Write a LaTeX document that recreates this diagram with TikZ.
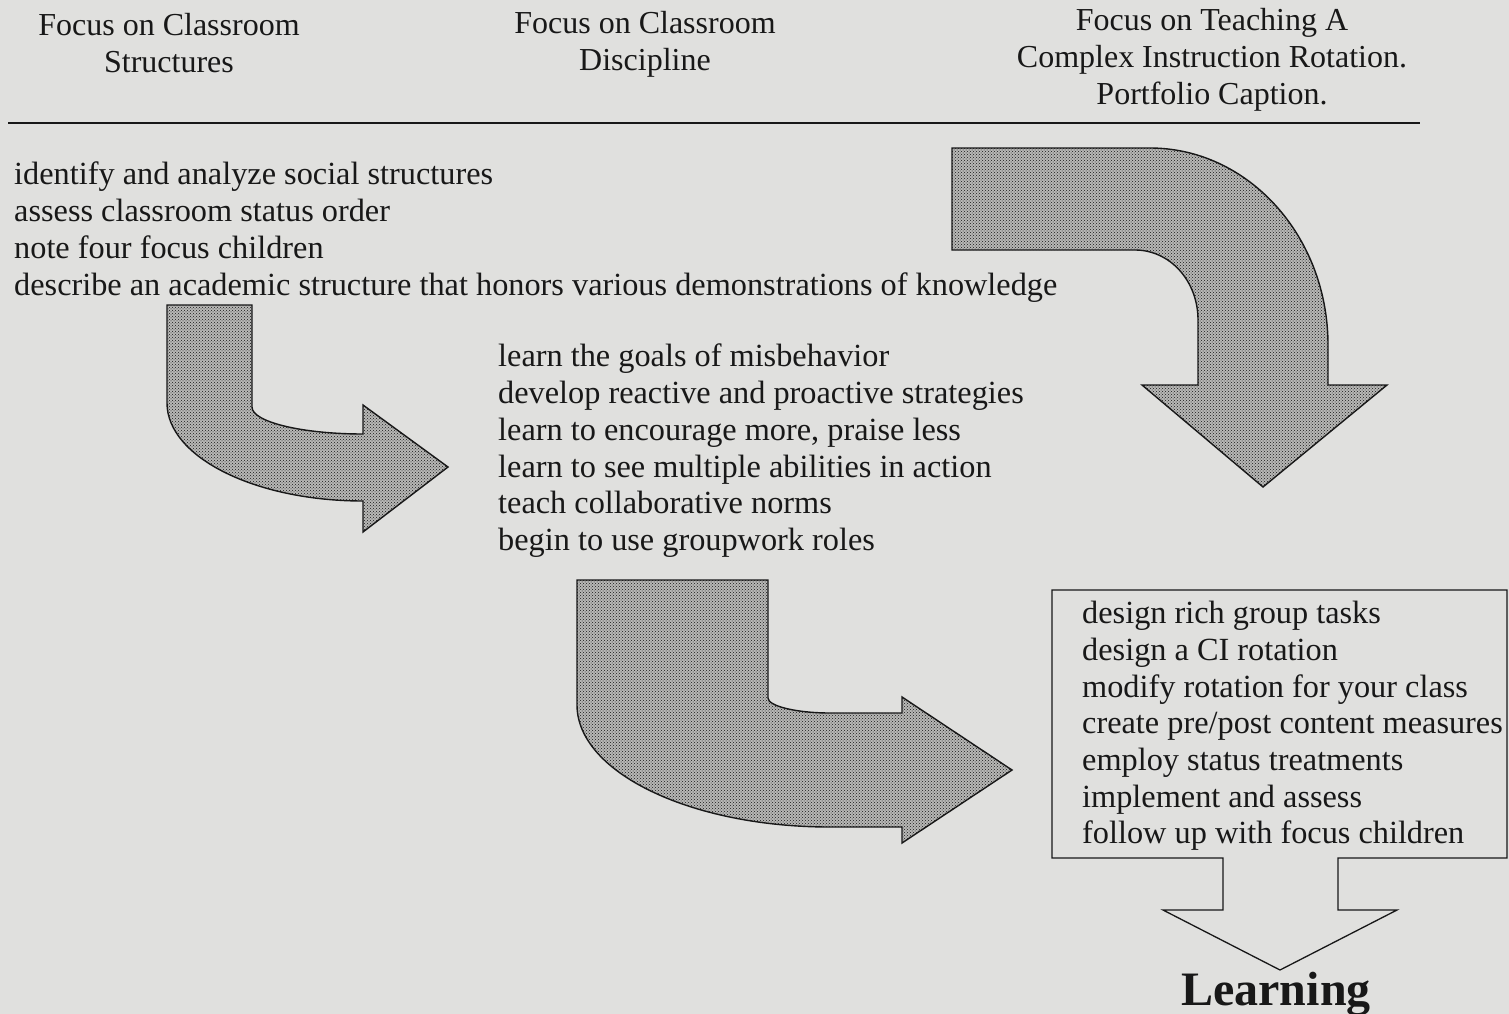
\documentclass[tikz,border=0pt]{standalone}
\usepackage{fontspec}
\setmainfont{Liberation Serif}
\usepackage{tikz}
\usetikzlibrary{patterns}
\definecolor{paper}{RGB}{224,224,222}
\definecolor{ink}{RGB}{24,24,24}

\begin{document}
\begin{tikzpicture}[x=1pt,y=-1pt,
        headtext/.style={inner sep=0,align=center,anchor=north,text=ink,font=\fontsize{32}{37}\selectfont},
        listtext/.style={inner sep=0,align=left,anchor=north west,text=ink,font=\fontsize{32.3}{36.7}\selectfont},
        bentarrow/.style={draw=ink,line width=1.4pt,line join=miter,preaction={fill=paper!82!black},pattern=crosshatch dots,pattern color=ink}]
                \useasboundingbox[fill=paper](0,0)rectangle(1509,1014);
                % headers
                \node[headtext](hdA)at(169, 13){Focus on Classroom\\Structures};
                \node[headtext](hdB)at(645, 11){Focus on Classroom\\Discipline};
                \node[headtext](hdC)at(1212, 8){Focus on Teaching A\\Complex Instruction Rotation.\\Portfolio Caption.};
                \draw[ink,line width=1.8pt](8,123) -- (1420,123);
                % lists
                \node[listtext](listA)at(14, 162){identify and analyze social structures\\assess classroom status order\\note four focus children\\describe an academic structure that honors various demonstrations of knowledge};
                \node[listtext](listB)at(498, 344){learn the goals of misbehavior\\develop reactive and proactive strategies\\learn to encourage more, praise less\\learn to see multiple abilities in action\\teach collaborative norms\\begin to use groupwork roles};
                \node[listtext](listC)at(1082, 601){design rich group tasks\\design a CI rotation\\modify rotation for your class\\create pre/post content measures\\employ status treatments\\implement and assess\\follow up with focus children};
                \node[inner sep=0,anchor=base,text=ink,font=\fontsize{48}{48}\selectfont\bfseries](learn)at(1276, 1005){Learning};
                % bent arrows
                \path[bentarrow](167,305) -- (252,305) -- (252,407)
                    .. controls (252,422) and (302,434) .. (363,434)
                    -- (363,405) -- (448,467) -- (363,532) -- (363,501)
                    .. controls (255,501) and (167,457) .. (167,403) -- cycle;
                \path[bentarrow](577,580) -- (768,580) -- (768,698)
                    .. controls (768,706) and (796,713) .. (830,713)
                    -- (902,713) -- (902,697) -- (1012,770) -- (902,843) -- (902,827) -- (830,827)
                    .. controls (690,827) and (577,772) .. (577,705) -- cycle;
                \path[bentarrow](952,148) -- (1150,148)
                    .. controls (1248,148) and (1328,236) .. (1328,345)
                    -- (1328,385) -- (1387,385) -- (1263,487) -- (1142,385) -- (1198,385) -- (1198,320)
                    .. controls (1198,281) and (1170,250) .. (1135,250)
                    -- (952,250) -- cycle;
                % box with open arrow
                \draw[ink,line width=1.3pt](1223,858) -- (1052,858) -- (1052,590) -- (1507,590) -- (1507,858) -- (1338,858)
                    -- (1338,910) -- (1397,910) -- (1280,970) -- (1163,910) -- (1223,910) -- cycle;
            \end{tikzpicture}
\end{document}
